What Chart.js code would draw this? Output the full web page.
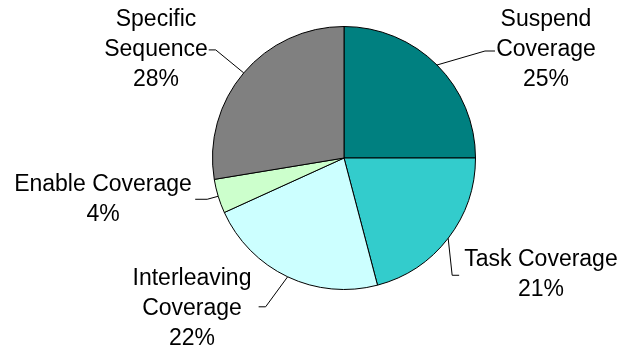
<!DOCTYPE html>
<html>
<head>
<meta charset="utf-8">
<script src="https://cdn.jsdelivr.net/npm/chart.js@4"></script>
<style>
  html, body { margin: 0; padding: 0; background: #ffffff; }
  #wrap { width: 621px; height: 352px; }
</style>
</head>
<body>
<div id="wrap"><canvas id="coverageChart" width="621" height="352"></canvas></div>
<script>
// Chart data
const categories = ['Suspend Coverage', 'Task Coverage', 'Interleaving Coverage', 'Enable Coverage', 'Specific Sequence'];
const shares = [25.0, 20.9, 22.3, 4.2, 27.6];
const percentLabels = ['25%', '21%', '22%', '4%', '28%'];
const sliceColors = ['#008080', '#33CCCC', '#CCFFFF', '#CCFFCC', '#808080'];

// Label layout: text lines, text centre, leader elbow/end offsets from the slice edge point
const labelLayout = [
    { lines: ['Suspend', 'Coverage'], x: 546, y: 20, elbow: [48, -14], end: [58, -14] },
    { lines: ['Task Coverage'], x: 541, y: 260, elbow: [4, 37], end: [11, 37] },
    { lines: ['Interleaving', 'Coverage'], x: 192, y: 279, elbow: [-22, 30], end: [-29, 30] },
    { lines: ['Enable Coverage'], x: 103, y: 185, elbow: [-11, 3], end: [-23, 3] },
    { lines: ['Specific', 'Sequence'], x: 156, y: 20, elbow: [-28, -23], end: [-35, -23] }
];

const outsideLabels = {
    id: 'outsideLabels',
    afterDraw(chart) {
        const ctx = chart.ctx;
        const arcs = chart.getDatasetMeta(0).data;
        const lineGap = 30;
        ctx.save();
        ctx.strokeStyle = '#000000';
        ctx.lineWidth = 1;
        ctx.fillStyle = '#000000';
        ctx.font = '23px "Liberation Sans", Arial, sans-serif';
        ctx.textAlign = 'center';
        ctx.textBaseline = 'middle';
        arcs.forEach((arc, i) => {
            const p = arc.getProps(['x', 'y', 'startAngle', 'endAngle', 'outerRadius'], true);
            const mid = (p.startAngle + p.endAngle) / 2;
            const ex = p.x + Math.cos(mid) * p.outerRadius;
            const ey = p.y + Math.sin(mid) * p.outerRadius;
            const lay = labelLayout[i];

            // leader line
            ctx.beginPath();
            ctx.moveTo(ex, ey);
            ctx.lineTo(ex + lay.elbow[0], ey + lay.elbow[1]);
            ctx.lineTo(ex + lay.end[0], ey + lay.end[1]);
            ctx.stroke();

            // text
            const lines = lay.lines.concat([percentLabels[i]]);
            lines.forEach((t, k) => {
                ctx.fillText(t, lay.x, lay.y + k * lineGap);
            });
        });
        ctx.restore();
    }
};

document.addEventListener('DOMContentLoaded', () => {
    const ctx = document.getElementById('coverageChart').getContext('2d');
    new Chart(ctx, {
        type: 'pie',
        data: {
            labels: categories,
            datasets: [{
                data: shares,
                backgroundColor: sliceColors,
                borderColor: '#000000',
                borderWidth: 1
            }]
        },
        options: {
            responsive: false,
            animation: false,
            layout: {
                padding: { left: 212, right: 145, top: 26, bottom: 62 }
            },
            plugins: {
                legend: { display: false },
                tooltip: { enabled: false }
            }
        },
        plugins: [outsideLabels]
    });
});
</script>
</body>
</html>
